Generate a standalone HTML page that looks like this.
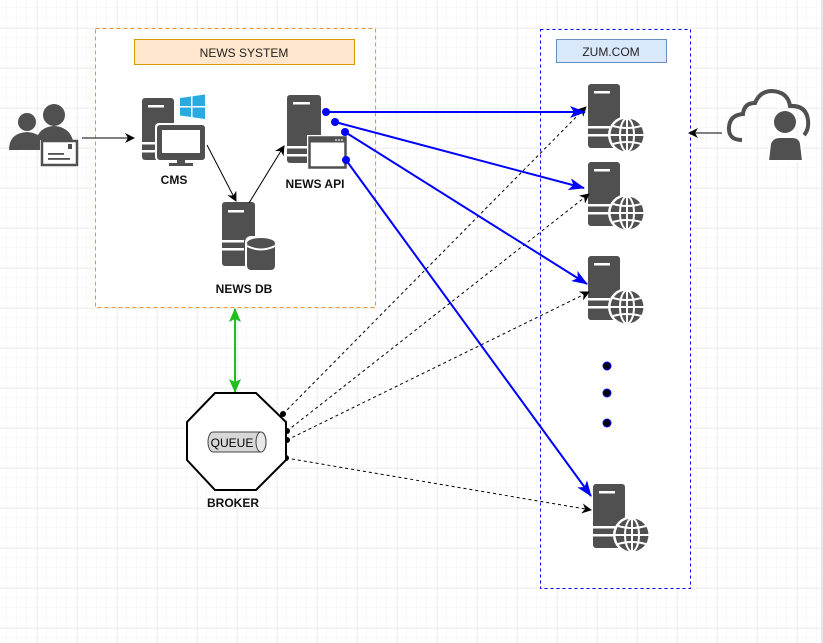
<!DOCTYPE html>
<html><head><meta charset="utf-8"><style>
html,body{margin:0;padding:0;background:#fff;}
svg{display:block;}
text{font-family:"Liberation Sans",sans-serif;}
</style></head><body>
<svg width="823" height="643" viewBox="0 0 823 643" xmlns="http://www.w3.org/2000/svg">
<defs>
<pattern id="gmin" width="10" height="10" patternUnits="userSpaceOnUse" x="7" y="8">
<path d="M10 0V10M0 10H10" stroke="#f3f3f3" stroke-width="1" fill="none"/></pattern>
<pattern id="gmaj" width="40" height="40" patternUnits="userSpaceOnUse" x="37.5" y="28.5">
<path d="M0 0V40M0 0H40" stroke="#e4e4e4" stroke-width="1" fill="none"/></pattern>
<marker id="ab" markerWidth="10" markerHeight="10" refX="9" refY="5" orient="auto" markerUnits="userSpaceOnUse"><path d="M0,0 L10,5 L0,10 L3,5 z" fill="#000"/></marker>
<marker id="abl" markerWidth="16" markerHeight="12" refX="15" refY="6" orient="auto" markerUnits="userSpaceOnUse"><path d="M0,0 L16,6 L0,12 L4,6 z" fill="#00f"/></marker>
<marker id="ag" markerWidth="14" markerHeight="12" refX="13" refY="6" orient="auto" markerUnits="userSpaceOnUse"><path d="M0,0 L14,6 L0,12 L3,6 z" fill="#1fbf1f"/></marker>
<marker id="ag2" markerWidth="14" markerHeight="12" refX="1" refY="6" orient="auto" markerUnits="userSpaceOnUse"><path d="M14,0 L0,6 L14,12 L11,6 z" fill="#1fbf1f"/></marker>
<marker id="dotb" markerWidth="10" markerHeight="10" refX="5" refY="5" markerUnits="userSpaceOnUse"><circle cx="5" cy="5" r="4" fill="#00f"/></marker>
<marker id="dotk" markerWidth="8" markerHeight="8" refX="4" refY="4" markerUnits="userSpaceOnUse"><circle cx="4" cy="4" r="3" fill="#000"/></marker>
<g id="srv">
<rect x="0" y="0" width="32" height="64" rx="3" fill="#505050"/>
<rect x="6" y="7" width="16" height="2.5" fill="#fff"/>
<rect x="0" y="42" width="22" height="2.5" fill="#fff"/>
<rect x="0" y="50" width="22" height="2.5" fill="#fff"/>
<circle cx="39" cy="51" r="19" fill="#fff"/>
<circle cx="39" cy="51" r="16.5" fill="#505050"/>
<g stroke="#fff" stroke-width="2" fill="none">
<ellipse cx="39" cy="51" rx="7" ry="16.5"/>
<line x1="39" y1="34.5" x2="39" y2="67.5"/>
<line x1="22.5" y1="51" x2="55.5" y2="51"/>
<path d="M25 42 Q39 46 53 42 M25 60 Q39 56 53 60"/>
</g>
</g>
</defs>
<rect width="823" height="643" fill="#fff"/>
<rect width="823" height="643" fill="url(#gmin)"/>
<rect width="823" height="643" fill="url(#gmaj)"/>
<line x1="822" y1="0" x2="822" y2="643" stroke="#ccc"/>

<!-- News system -->
<rect x="95.5" y="28.5" width="280" height="279" fill="#fff" stroke="#f0932b" stroke-dasharray="4,3"/>
<rect x="134.5" y="39.5" width="220" height="25" fill="#ffe6cc" stroke="#d79b00"/>
<text x="244" y="57" font-size="12" text-anchor="middle" fill="#222">NEWS SYSTEM</text>

<!-- Zum -->
<rect x="540.5" y="29.5" width="150" height="559" fill="#fff" stroke="#00f" stroke-dasharray="3,3"/>
<rect x="556.5" y="39.5" width="110" height="23" fill="#dae8fc" stroke="#6c8ebf"/>
<text x="611" y="56" font-size="12" text-anchor="middle" fill="#222">ZUM.COM</text>

<!-- users -->
<g fill="#505050">
<circle cx="27" cy="122" r="9"/>
<path d="M9 150 Q9 133 27 132 Q40 133 44 142 L44 150 Z"/>
<circle cx="54" cy="115" r="11"/>
<path d="M36 142 Q38 127 54 126 Q72 127 74 146 L44 146 L44 142 Z"/>
<rect x="40" y="140" width="38" height="27" fill="#fff"/>
<rect x="42" y="141" width="35" height="24" fill="#fff" stroke="#505050" stroke-width="2.5"/>
<rect x="68" y="144" width="4" height="5"/>
<rect x="48" y="153" width="16" height="1.8"/>
<rect x="48" y="158" width="22" height="1.8"/>
</g>

<!-- CMS -->
<g fill="#505050">
<rect x="142" y="98" width="32" height="62" rx="3"/>
<rect x="148" y="105" width="16" height="2.5" fill="#fff"/>
<rect x="142" y="142" width="14" height="2.5" fill="#fff"/>
<rect x="142" y="150" width="14" height="2.5" fill="#fff"/>
<rect x="155" y="123" width="52" height="38" rx="4" fill="#fff"/>
<rect x="157" y="125" width="48" height="35" rx="3"/>
<rect x="162" y="130" width="38" height="23" fill="#fff"/>
<rect x="177" y="160" width="8" height="4"/>
<rect x="169" y="163" width="24" height="3"/>
</g>
<g fill="#29abe2">
<path d="M180 98 L191 96.5 L191 106 L180 106 Z"/>
<path d="M192.5 96.3 L205 94.5 L205 106 L192.5 106 Z"/>
<path d="M180 107.5 L191 107.5 L191 117 L180 115.5 Z"/>
<path d="M192.5 107.5 L205 107.5 L205 119 L192.5 117.2 Z"/>
</g>
<text x="174" y="184" font-size="12" font-weight="bold" text-anchor="middle" fill="#111">CMS</text>

<!-- NEWS DB -->
<g fill="#505050">
<rect x="222" y="202" width="33" height="64" rx="3"/>
<rect x="228" y="210" width="16" height="2.5" fill="#fff"/>
<rect x="222" y="240" width="22" height="2.5" fill="#fff"/>
<rect x="222" y="248" width="22" height="2.5" fill="#fff"/>
<rect x="245" y="236" width="32" height="36" rx="6" fill="#fff"/>
<rect x="247" y="242" width="28" height="28" rx="4"/>
<ellipse cx="261" cy="243" rx="14" ry="5"/>
<path d="M247 246 Q261 253 275 246" stroke="#fff" stroke-width="2" fill="none"/>
</g>
<text x="244" y="293" font-size="12" font-weight="bold" text-anchor="middle" fill="#111">NEWS DB</text>

<!-- NEWS API -->
<g fill="#505050">
<rect x="287" y="95" width="34" height="68" rx="3"/>
<rect x="293" y="102" width="17" height="2.5" fill="#fff"/>
<rect x="287" y="146" width="20" height="2.5" fill="#fff"/>
<rect x="287" y="154" width="20" height="2.5" fill="#fff"/>
<rect x="307" y="135" width="41" height="35" fill="#fff"/>
<rect x="309.5" y="137.5" width="36" height="30" fill="#fff" stroke="#505050" stroke-width="2.5"/>
<rect x="309.5" y="137.5" width="36" height="5" />
<circle cx="336" cy="140" r="0.9" fill="#fff"/><circle cx="339" cy="140" r="0.9" fill="#fff"/><circle cx="342" cy="140" r="0.9" fill="#fff"/>
</g>
<text x="315" y="188" font-size="12" font-weight="bold" text-anchor="middle" fill="#111">NEWS API</text>

<!-- zum servers -->
<use href="#srv" x="588" y="84"/>
<use href="#srv" x="588" y="162"/>
<use href="#srv" x="588" y="256"/>
<use href="#srv" x="593" y="484"/>
<g fill="#000" stroke="#00f" stroke-width="1"><circle cx="607" cy="366" r="4"/><circle cx="607" cy="393" r="4"/><circle cx="607" cy="423" r="4"/></g>

<!-- cloud user -->
<g>
<path d="M742 140 Q728 140 729 127 Q730 115 743 114 Q744 103 755 103 Q760 91 772 91 Q788 92 790 106 Q806 105 808 120 Q809 130 804 135" fill="none" stroke="#505050" stroke-width="4"/>
<circle cx="785" cy="123" r="13" fill="#fff"/>
<circle cx="785" cy="122" r="11" fill="#505050"/>
<path d="M768 161 L770 144 Q772 137 780 137 L792 137 Q800 137 801 144 L803 161 Z" fill="#505050" stroke="#fff" stroke-width="2"/>
</g>

<!-- black arrows -->
<g stroke="#000" stroke-width="1" fill="none">
<line x1="82" y1="138" x2="134" y2="138" marker-end="url(#ab)"/>
<line x1="207" y1="145" x2="236" y2="201" marker-end="url(#ab)"/>
<line x1="249" y1="203" x2="284" y2="146" marker-end="url(#ab)"/>
<line x1="722" y1="133" x2="689" y2="133" marker-end="url(#ab)"/>
</g>

<!-- dashed -->
<g stroke="#000" stroke-width="1" fill="none" stroke-dasharray="3,3">
<line x1="283" y1="414" x2="586" y2="107" marker-start="url(#dotk)" marker-end="url(#ab)"/>
<line x1="287" y1="431" x2="589" y2="194" marker-start="url(#dotk)" marker-end="url(#ab)"/>
<line x1="287" y1="440" x2="589" y2="292" marker-start="url(#dotk)" marker-end="url(#ab)"/>
<line x1="286" y1="458" x2="591" y2="510" marker-start="url(#dotk)" marker-end="url(#ab)"/>
</g>

<!-- blue -->
<g stroke="#00f" stroke-width="2" fill="none">
<line x1="326" y1="112" x2="585" y2="112" marker-start="url(#dotb)" marker-end="url(#abl)"/>
<line x1="335" y1="122" x2="584" y2="188" marker-start="url(#dotb)" marker-end="url(#abl)"/>
<line x1="345" y1="132" x2="587" y2="284" marker-start="url(#dotb)" marker-end="url(#abl)"/>
<line x1="346" y1="160" x2="591" y2="496" marker-start="url(#dotb)" marker-end="url(#abl)"/>
</g>

<!-- green -->
<line x1="235" y1="309" x2="235" y2="392" stroke="#1fbf1f" stroke-width="2" marker-start="url(#ag2)" marker-end="url(#ag)"/>

<!-- broker -->
<polygon points="215,393 256,393 286,422 286,460 256,490 215,490 187,460 187,422" fill="#fff" stroke="#000" stroke-width="2"/>
<g stroke="#444" stroke-width="1">
<path d="M213 432 L261 432 A5 10 0 0 1 261 452 L213 452 A5 10 0 0 1 213 432 Z" fill="#d8d8d8"/>
<ellipse cx="261" cy="442" rx="5" ry="10" fill="#e8e8e8"/>
</g>
<text x="232" y="447" font-size="12" text-anchor="middle" fill="#000">QUEUE</text>
<text x="233" y="507" font-size="12" font-weight="bold" text-anchor="middle" fill="#111">BROKER</text>
</svg>
</body></html>
